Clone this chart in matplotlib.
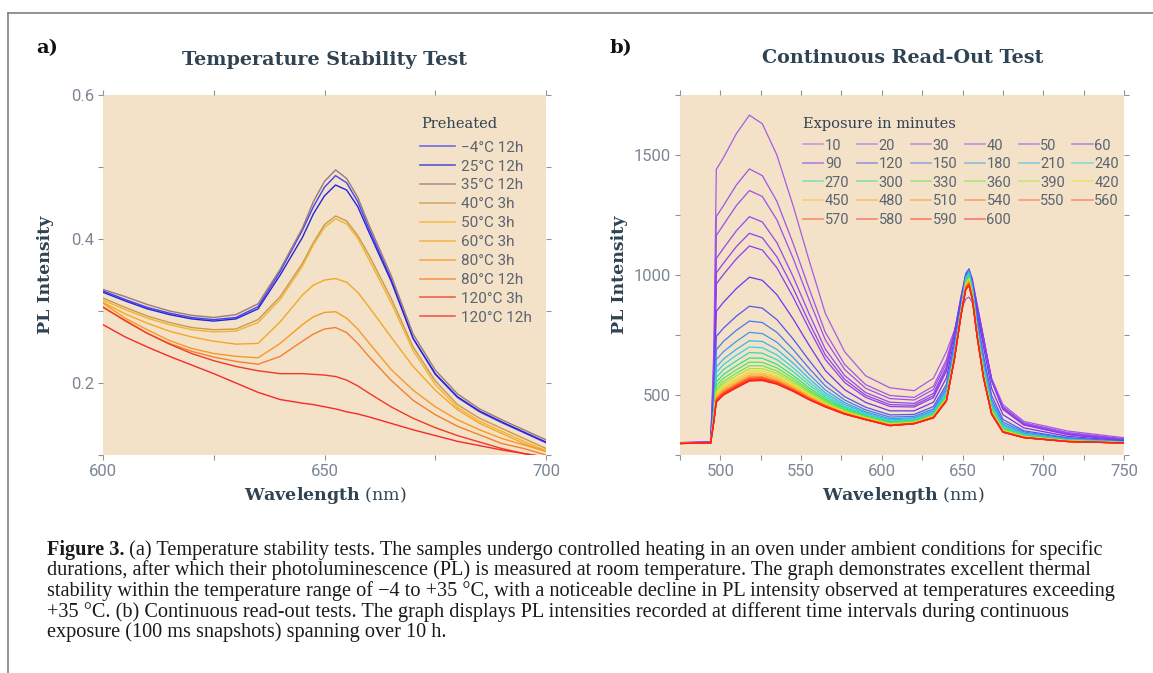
import matplotlib
matplotlib.use('Agg')
import matplotlib.pyplot as plt
from matplotlib.colors import LinearSegmentedColormap
from matplotlib.lines import Line2D
from matplotlib.text import Annotation
from matplotlib.ticker import MultipleLocator

plt.rcParams['font.family'] = ['Roboto', 'DejaVu Sans']
plt.rcParams['mathtext.fontset'] = 'dejavuserif'

SLAB = 'DejaVu Serif'
INK = '#2f4352'
TICK_TXT = '#7b8794'
TICK_COL = '#8c9399'
LEGEND_TXT = '#5a6570'
PANEL_BG = '#f3e1c8'

# ---- panel a: temperature stability ----
wl_a = [600, 605, 610, 615, 620, 625, 630, 635, 640, 645, 647.5, 650,
        652.5, 655, 657.5, 660, 665, 670, 675, 680, 685, 690, 695, 700]
temp_labels = ['\u22124°C 12h', '25°C 12h', '35°C 12h', '40°C 3h', '50°C 3h',
               '60°C 3h', '80°C 3h', '80°C 12h', '120°C 3h', '120°C 12h']
temp_colors = ['#4242f2', '#2424e0', '#9a7a7a', '#c89a50', '#f2b430',
               '#f5a824', '#f89a22', '#f5802c', '#f03a22', '#f52a2a']
pl_a = [
    [.328, .316, .305, .297, .291, .288, .291, .306, .355, .412, .445, .472,
     .488, .478, .452, .415, .345, .262, .212, .180, .160, .145, .131, .117],
    [.326, .314, .303, .295, .289, .286, .289, .303, .350, .402, .435, .460,
     .475, .468, .445, .410, .342, .262, .213, .181, .161, .146, .132, .118],
    [.330, .320, .309, .300, .294, .291, .295, .310, .358, .415, .452, .480,
     .496, .484, .458, .420, .350, .268, .218, .185, .164, .149, .135, .121],
    [.318, .305, .293, .284, .277, .274, .275, .288, .320, .366, .395, .420,
     .432, .425, .405, .378, .318, .250, .203, .170, .151, .137, .123, .109],
    [.315, .302, .290, .281, .274, .271, .272, .284, .316, .362, .392, .416,
     .428, .421, .401, .372, .312, .245, .198, .166, .147, .133, .119, .106],
    [.312, .296, .283, .272, .264, .258, .254, .255, .285, .322, .336, .343,
     .345, .340, .326, .306, .264, .223, .190, .163, .144, .130, .116, .105],
    [.311, .290, .274, .259, .248, .241, .237, .235, .255, .281, .292, .298,
     .299, .290, .275, .256, .219, .190, .167, .149, .135, .123, .114, .105],
    [.306, .286, .269, .255, .244, .236, .230, .226, .237, .258, .268, .275,
     .277, .270, .255, .237, .204, .176, .156, .140, .128, .116, .109, .100],
    [.305, .287, .269, .254, .241, .231, .223, .217, .213, .213, .212, .211,
     .209, .204, .196, .186, .167, .151, .138, .127, .118, .109, .102, .097],
    [.281, .264, .250, .237, .225, .213, .200, .187, .177, .172, .170, .167,
     .164, .160, .157, .153, .144, .135, .127, .119, .113, .107, .102, .097],
]

# ---- panel b: continuous read-out ----
wl_b = [475, 494, 496, 497.5, 502, 510, 518, 526, 535, 545, 555, 565, 577, 590,
        605, 620, 632, 640, 645, 649, 652, 654, 656, 659, 663, 668, 675, 688,
        715, 750]
exposure_min = [10, 20, 30, 40, 50, 60, 90, 120, 150, 180, 210, 240, 270, 300,
                330, 360, 390, 420, 450, 480, 510, 540, 550, 560, 570, 580,
                590, 600]
pl_b = [
    [302, 305, 700, 1440, 1490, 1590, 1666, 1630, 1500, 1290, 1060, 840, 680, 580, 530, 518, 570,
     680, 770, 850, 900, 908, 885, 820, 720, 570, 460, 390, 350, 322],
    [301, 304, 637, 1244, 1290, 1376, 1442, 1414, 1307, 1133, 943, 761, 627, 543, 498, 490, 537,
     647, 766, 875, 943, 954, 926, 845, 728, 566, 452, 384, 344, 318],
    [301, 304, 612, 1165, 1210, 1290, 1352, 1327, 1230, 1071, 896, 730, 606, 528, 485, 479, 523,
     634, 764, 884, 960, 972, 943, 854, 732, 564, 449, 381, 341, 316],
    [301, 304, 582, 1069, 1112, 1185, 1243, 1221, 1135, 994, 838, 691, 581, 510, 470, 465, 507,
     618, 762, 897, 981, 995, 963, 867, 736, 562, 444, 378, 338, 314],
    [301, 303, 562, 1009, 1050, 1119, 1174, 1155, 1076, 946, 802, 667, 565, 499, 460, 457, 497,
     608, 761, 904, 995, 1009, 975, 874, 738, 561, 442, 376, 336, 313],
    [301, 303, 547, 963, 1003, 1068, 1121, 1104, 1030, 909, 775, 648, 552, 490, 452, 450, 489,
     600, 760, 910, 1005, 1020, 985, 880, 740, 560, 440, 375, 335, 312],
    [300, 302, 511, 849, 887, 944, 991, 978, 918, 818, 707, 602, 522, 469, 434, 434, 470,
     571, 735, 892, 1005, 1025, 978, 849, 701, 528, 418, 363, 328, 309],
    [300, 302, 477, 744, 779, 829, 870, 862, 814, 734, 644, 560, 493, 449, 417, 419, 452,
     544, 711, 874, 1002, 1025, 970, 820, 664, 498, 398, 351, 322, 307],
    [300, 302, 460, 689, 724, 770, 808, 802, 761, 690, 611, 538, 479, 438, 408, 411, 442,
     531, 699, 866, 996, 1020, 962, 805, 646, 482, 387, 346, 319, 305],
    [299, 301, 447, 648, 681, 724, 761, 756, 720, 657, 586, 521, 468, 430, 401, 405, 435,
     520, 690, 859, 991, 1015, 956, 794, 631, 470, 379, 341, 316, 304],
    [299, 301, 437, 617, 650, 691, 726, 723, 690, 633, 568, 509, 460, 425, 396, 401, 430,
     512, 683, 854, 986, 1010, 949, 786, 621, 462, 374, 338, 315, 304],
    [299, 301, 430, 594, 627, 666, 700, 697, 667, 614, 554, 500, 453, 420, 392, 398, 426,
     506, 678, 850, 981, 1005, 943, 779, 613, 455, 369, 335, 313, 303],
    [299, 301, 423, 574, 606, 643, 677, 674, 647, 598, 542, 492, 448, 417, 389, 395, 423,
     501, 673, 847, 977, 1000, 938, 773, 606, 449, 365, 333, 312, 303],
    [299, 301, 417, 554, 586, 622, 654, 653, 628, 582, 530, 484, 443, 413, 386, 392, 419,
     496, 669, 844, 972, 995, 932, 768, 599, 444, 361, 331, 311, 302],
    [299, 300, 412, 539, 570, 605, 637, 636, 613, 570, 521, 478, 438, 410, 383, 390, 417,
     493, 665, 841, 967, 990, 928, 764, 594, 440, 358, 329, 310, 302],
    [299, 300, 408, 526, 557, 591, 622, 622, 600, 560, 514, 473, 435, 408, 381, 388, 415,
     489, 663, 839, 965, 988, 926, 760, 589, 436, 356, 328, 309, 301],
    [299, 300, 405, 516, 547, 580, 610, 610, 590, 551, 507, 468, 432, 406, 379, 386, 413,
     487, 660, 837, 963, 985, 923, 758, 586, 433, 354, 327, 309, 301],
    [299, 300, 401, 506, 537, 569, 599, 600, 580, 544, 501, 464, 430, 404, 378, 385, 411,
     484, 658, 836, 960, 982, 919, 755, 582, 430, 352, 326, 308, 301],
    [298, 300, 399, 498, 529, 561, 590, 591, 573, 537, 497, 461, 428, 402, 377, 384, 410,
     482, 656, 835, 957, 978, 916, 753, 580, 428, 350, 325, 308, 301],
    [298, 300, 397, 491, 522, 553, 582, 584, 566, 532, 493, 459, 426, 401, 375, 383, 409,
     480, 655, 833, 954, 975, 914, 751, 577, 426, 349, 324, 307, 300],
    [298, 300, 395, 486, 516, 547, 576, 577, 560, 527, 489, 456, 424, 400, 375, 382, 408,
     479, 654, 833, 950, 970, 910, 749, 575, 424, 348, 324, 307, 300],
    [298, 300, 394, 482, 512, 543, 571, 573, 556, 524, 487, 455, 423, 399, 374, 382, 407,
     478, 653, 832, 947, 967, 908, 748, 574, 423, 347, 323, 307, 300],
    [298, 300, 393, 479, 509, 540, 568, 570, 554, 522, 485, 454, 422, 399, 373, 381, 406,
     477, 652, 831, 946, 965, 907, 747, 573, 423, 347, 323, 307, 300],
    [298, 300, 392, 477, 507, 537, 566, 567, 552, 520, 484, 453, 422, 398, 373, 381, 406,
     477, 652, 831, 944, 962, 905, 747, 572, 422, 346, 323, 306, 300],
    [298, 300, 392, 475, 505, 535, 564, 565, 550, 519, 483, 452, 421, 398, 373, 381, 406,
     476, 651, 831, 942, 960, 903, 746, 572, 421, 346, 323, 306, 300],
    [298, 300, 391, 474, 504, 534, 562, 564, 549, 518, 482, 452, 421, 398, 373, 381, 405,
     476, 651, 830, 941, 958, 902, 746, 571, 421, 346, 322, 306, 300],
    [298, 300, 391, 472, 502, 532, 560, 562, 547, 517, 481, 451, 421, 397, 372, 380, 405,
     475, 650, 830, 940, 956, 901, 745, 571, 421, 345, 322, 306, 300],
    [298, 300, 390, 470, 500, 530, 558, 560, 545, 515, 480, 450, 420, 397, 372, 380, 405,
     475, 650, 830, 940, 955, 900, 745, 570, 420, 345, 322, 306, 300],
]

caption_lines = [
    ' (a) Temperature stability tests. The samples undergo controlled heating in an oven under ambient conditions for specific',
    'durations, after which their photoluminescence (PL) is measured at room temperature. The graph demonstrates excellent thermal',
    'stability within the temperature range of \u22124 to +35 °C, with a noticeable decline in PL intensity observed at temperatures exceeding',
    '+35 °C. (b) Continuous read-out tests. The graph displays PL intensities recorded at different time intervals during continuous',
    'exposure (100 ms snapshots) spanning over 10 h.',
]

exposure_cmap = LinearSegmentedColormap.from_list('exposure', [
    (0.00, '#a85ae6'), (0.085, '#8a3cf0'), (0.14, '#6a35f2'), (0.19, '#4f5cf0'),
    (0.29, '#3c9cf0'), (0.39, '#2fd8dc'), (0.49, '#35e07a'), (0.59, '#6ee83a'),
    (0.69, '#e8e02a'), (0.80, '#ffa82a'), (0.90, '#ff6a30'), (1.00, '#ff2018')])


def style_axes(ax):
    ax.set_facecolor(PANEL_BG)
    for s in ax.spines.values():
        s.set_visible(False)
    ax.tick_params(which='both', direction='out', top=True, right=True,
                   color=TICK_COL, width=0.8, length=3.5,
                   labelcolor=TICK_TXT, labelsize=12, pad=3)


fig = plt.figure(figsize=(11.53, 6.73), dpi=100)
W, H = 1153, 673


def fx(px):
    return px / W


def fy(py):
    return 1 - py / H


ax_a = fig.add_axes([fx(103), fy(455), fx(546) - fx(103), fy(95) - fy(455)])
ax_b = fig.add_axes([fx(680), fy(455), fx(1124) - fx(680), fy(95) - fy(455)])

# panel a
for vals, lab, col in zip(pl_a, temp_labels, temp_colors):
    ax_a.plot(wl_a, vals, color=col, lw=1.0, label=lab)
ax_a.set_xlim(600, 700)
ax_a.set_ylim(0.1, 0.6)
ax_a.xaxis.set_major_locator(MultipleLocator(50))
ax_a.xaxis.set_minor_locator(MultipleLocator(25))
ax_a.yaxis.set_major_locator(MultipleLocator(0.2))
ax_a.yaxis.set_minor_locator(MultipleLocator(0.1))
style_axes(ax_a)
handles_a = [Line2D([], [], color=c, lw=1.2, alpha=0.75) for c in temp_colors]
ax_a.legend(handles_a, temp_labels, loc='upper left',
            bbox_to_anchor=(0.716, 0.873), frameon=False, fontsize=11,
            handlelength=2.3, handletextpad=0.4, labelspacing=0.32,
            borderpad=0, borderaxespad=0, labelcolor=LEGEND_TXT)
ax_a.text(0.718, 0.919, 'Preheated', transform=ax_a.transAxes, ha='left',
          va='center', family=SLAB, size=10.5, color=INK)

# panel b
for m, vals in zip(exposure_min, pl_b):
    ax_b.plot(wl_b, vals, color=exposure_cmap((m - 10) / 590), lw=0.9)
ax_b.set_xlim(475, 750)
ax_b.set_ylim(250, 1750)
ax_b.xaxis.set_major_locator(MultipleLocator(50))
ax_b.xaxis.set_minor_locator(MultipleLocator(25))
ax_b.yaxis.set_major_locator(MultipleLocator(500))
ax_b.yaxis.set_minor_locator(MultipleLocator(250))
style_axes(ax_b)

ncol = 6
order = [i for c in range(ncol) for i in range(c, len(exposure_min), ncol)]
handles_b = [Line2D([], [], color=exposure_cmap((exposure_min[i] - 10) / 590),
                    lw=1.2, alpha=0.55) for i in order]
labels_b = [str(exposure_min[i]) for i in order]
ax_b.legend(handles_b, labels_b, ncol=ncol, loc='upper left',
            bbox_to_anchor=(0.277, 0.879), frameon=False, fontsize=10.5,
            handlelength=1.4, handletextpad=0.1, columnspacing=0.5,
            labelspacing=0.31, borderpad=0, borderaxespad=0,
            labelcolor=LEGEND_TXT)
ax_b.text(0.277, 0.919, 'Exposure in minutes', transform=ax_b.transAxes,
          ha='left', va='center', family=SLAB, size=10.5, color=INK)

# titles and axis labels
fig.text(fx(325), fy(60), 'Temperature Stability Test', ha='center', va='center',
         family=SLAB, weight='bold', size=13.8, color=INK)
fig.text(fx(903), fy(58), 'Continuous Read-Out Test', ha='center', va='center',
         family=SLAB, weight='bold', size=13.8, color=INK)
fig.text(fx(36), fy(48), 'a)', ha='left', va='center', family=SLAB,
         weight='bold', size=14, color='#111111')
fig.text(fx(610), fy(48), 'b)', ha='left', va='center', family=SLAB,
         weight='bold', size=14, color='#111111')
for xc in (325, 903):
    fig.text(fx(xc), fy(496), r'$\mathbf{Wavelength}$ (nm)', ha='center',
             va='center', family=SLAB, size=12.5, color=INK)
for xc in (45, 620):
    fig.text(fx(xc), fy(275), 'PL Intensity', ha='center', va='center',
             rotation=90, family=SLAB, weight='bold', size=12.5, color=INK)

# caption
CAP = 'Liberation Serif'
cap_size = 14.6
t_bold = fig.text(fx(47), fy(555), 'Figure 3.', ha='left', va='baseline',
                  family=CAP, weight='bold', size=cap_size, color='#1a1a1a')
fig.add_artist(Annotation(caption_lines[0], xy=(1, 0), xycoords=t_bold,
                          ha='left', va='bottom', family=CAP, size=cap_size,
                          color='#1a1a1a'))
for k, line in enumerate(caption_lines[1:], start=1):
    fig.text(fx(47), fy(555 + 20.5 * k), line, ha='left', va='baseline',
             family=CAP, size=cap_size, color='#1a1a1a')

# page frame
fig.add_artist(Line2D([fx(8), 1], [fy(13), fy(13)], transform=fig.transFigure,
                      color='#808080', lw=1.2))
fig.add_artist(Line2D([fx(8), fx(8)], [fy(13), 0], transform=fig.transFigure,
                      color='#808080', lw=1.2))

fig.savefig('out.png', dpi=100)
